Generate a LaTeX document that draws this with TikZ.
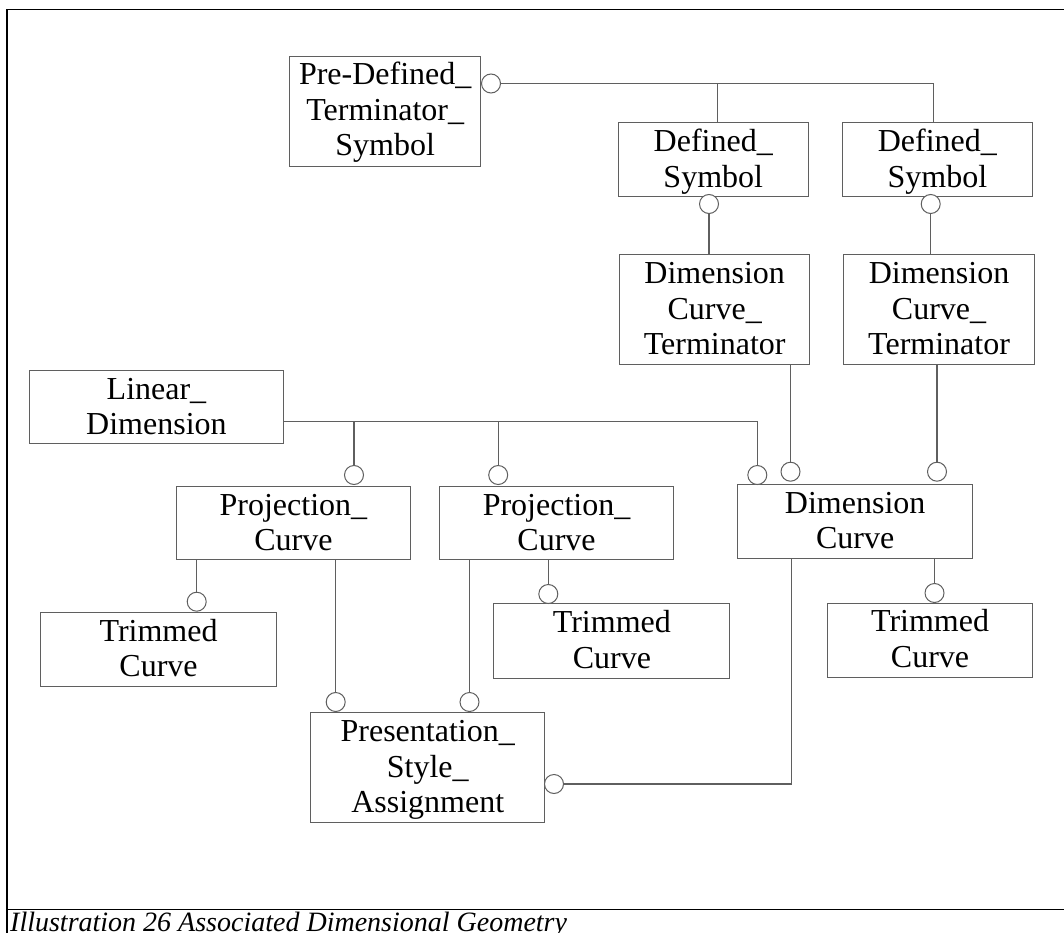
\documentclass[tikz,border=0pt]{standalone}
\usepackage{fontspec}
\setmainfont{Liberation Serif}
\definecolor{lgray}{RGB}{95,95,95}
\begin{document}
\begin{tikzpicture}[x=1pt,y=-1pt,
  box/.style={draw=lgray, line width=1.1pt, fill=white, inner sep=0pt, anchor=north west},
  txt/.style={inner sep=0pt, align=center, text width=#1, anchor=base, font=\fontsize{32}{35.5}\selectfont},
  ring/.style={circle, draw=lgray, line width=1pt, fill=white, inner sep=0pt, minimum size=19pt},
  conn/.style={draw=lgray, line width=1.1pt},
  frame/.style={draw=black}]
\useasboundingbox (0,0) rectangle (1064,933);
% frame
\draw[frame, line width=2pt] (7.3,9.5) -- (7.3,934);
\draw[frame, line width=1pt] (6.3,10) -- (1064,10);
\draw[frame, line width=1pt] (7.3,909.3) -- (1064,909.3);
% boxes
\node[box, minimum width=190.7pt, minimum height=110pt] (pdts) at (289.3,55.7) {};
\node[box, minimum width=190pt, minimum height=73.7pt] (ds1) at (617.7,122.3) {};
\node[box, minimum width=190.3pt, minimum height=73.7pt] (ds2) at (841.7,122.3) {};
\node[box, minimum width=190.3pt, minimum height=109.7pt] (dct1) at (619,254.3) {};
\node[box, minimum width=190.4pt, minimum height=109.7pt] (dct2) at (843.3,254.3) {};
\node[box, minimum width=254.6pt, minimum height=72.7pt] (lind) at (28.6,370) {};
\node[box, minimum width=234.3pt, minimum height=73.6pt] (proj1) at (175.7,485.7) {};
\node[box, minimum width=234pt, minimum height=73.6pt] (proj2) at (439,485.7) {};
\node[box, minimum width=234.7pt, minimum height=73.7pt] (dimc) at (737.3,484) {};
\node[box, minimum width=236pt, minimum height=74.3pt] (trim1) at (40,611.7) {};
\node[box, minimum width=236pt, minimum height=74.4pt] (trim2) at (493.3,603.3) {};
\node[box, minimum width=205pt, minimum height=74.4pt] (trim3) at (827,602.5) {};
\node[box, minimum width=234.3pt, minimum height=110pt] (pres) at (310,712.3) {};
% texts
\node[txt=190pt] (tpdts) at ([yshift=-29.3pt]pdts.north) {Pre-Defined\_\\Terminator\_\\Symbol};
\node[txt=190pt] (tds1) at ([yshift=-29.3pt]ds1.north) {Defined\_\\Symbol};
\node[txt=190pt] (tds2) at ([yshift=-29.3pt]ds2.north) {Defined\_\\Symbol};
\node[txt=190pt] (tdct1) at ([yshift=-29.3pt]dct1.north) {Dimension\\Curve\_\\Terminator};
\node[txt=190pt] (tdct2) at ([yshift=-29.3pt]dct2.north) {Dimension\\Curve\_\\Terminator};
\node[txt=250pt] (tlind) at ([yshift=-29.3pt]lind.north) {Linear\_\\Dimension};
\node[txt=230pt] (tproj1) at ([yshift=-29.3pt]proj1.north) {Projection\_\\Curve};
\node[txt=230pt] (tproj2) at ([yshift=-29.3pt]proj2.north) {Projection\_\\Curve};
\node[txt=230pt] (tdimc) at ([yshift=-29.3pt]dimc.north) {Dimension\\Curve};
\node[txt=230pt] (ttrim1) at ([yshift=-29.3pt]trim1.north) {Trimmed\\Curve};
\node[txt=230pt] (ttrim2) at ([yshift=-29.3pt]trim2.north) {Trimmed\\Curve};
\node[txt=200pt] (ttrim3) at ([yshift=-29.3pt]trim3.north) {Trimmed\\Curve};
\node[txt=230pt] (tpres) at ([yshift=-29.3pt]pres.north) {Presentation\_\\Style\_\\Assignment};
% junction coordinates
\coordinate (lj) at (0,421.7);
\coordinate (dj) at (791.7,0);
\coordinate (ta) at (717.7,0);
\coordinate (tb) at (933.3,0);
% connectors (lines first, circles on top)
\draw[conn] (pdts.east |- 0,83.5) ++(11,0) coordinate (cpdpos);
\draw[conn] (ds1.north -| ta) |- (cpdpos);
\draw[conn] (cpdpos) -| (ds2.north -| tb);
\node[ring] (cpd) at (491,83.5) {};
\node[ring] (cds1) at (709,204) {};
\node[ring] (cds2) at (930.7,204) {};
\draw[conn] (cds1.south) -- (cds1.south |- dct1.north);
\draw[conn] (cds2.south) -- (cds2.south |- dct2.north);
\node[ring] (cdc2) at (790.5,471.7) {};
\node[ring] (cdc3) at (937,471.7) {};
\draw[conn] (cdc2.north) -- (cdc2.north |- dct1.south);
\draw[conn] (cdc3.north) -- (cdc3.north |- dct2.south);
\node[ring] (cdc1) at (757.3,475) {};
\node[ring] (cp1) at (354,475) {};
\node[ring] (cp2) at (498.2,475) {};
\draw[conn] (lind.east |- lj) -| (cdc1.north);
\draw[conn] (cp1.north) -- (cp1.north |- lj);
\draw[conn] (cp2.north) -- (cp2.north |- lj);
\node[ring] (ct1) at (196.7,601.7) {};
\node[ring] (ct2) at (548.3,594) {};
\node[ring] (ct3) at (934.5,593) {};
\draw[conn] (ct1.north) -- (ct1.north |- proj1.south);
\draw[conn] (ct2.north) -- (ct2.north |- proj2.south);
\draw[conn] (ct3.north) -- (ct3.north |- dimc.south);
\node[ring] (cpr1) at (335.7,702) {};
\node[ring] (cpr2) at (469.5,702) {};
\node[ring] (cpr3) at (554,784) {};
\draw[conn] (cpr1.north) -- (cpr1.north |- proj1.south);
\draw[conn] (cpr2.north) -- (cpr2.north |- proj2.south);
\draw[conn] (cpr3.east) -| (dimc.south -| dj);
% caption
\node[anchor=base west, inner sep=0pt, font=\fontsize{28}{30}\selectfont\itshape] (cap) at (10,931) {Illustration 26 Associated Dimensional Geometry};
\end{tikzpicture}
\end{document}
